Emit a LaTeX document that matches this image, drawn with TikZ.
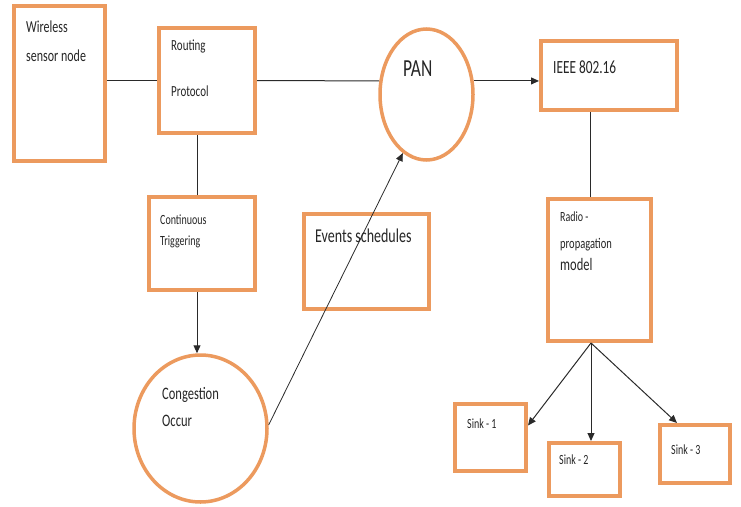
\documentclass[tikz,border=0pt]{standalone}
\usepackage{fontspec}
\setmainfont{Carlito}
\usetikzlibrary{arrows.meta,shapes.geometric}
\definecolor{boxorange}{HTML}{EC9A5E}
\definecolor{linegray}{HTML}{2A2A2A}
\newcommand{\mytall}[1]{\scalebox{1}[1.4]{#1}}
\tikzset{
  box/.style={draw=boxorange, line width=4pt, fill=white, inner sep=0pt},
  oval/.style={draw=boxorange, line width=3.5pt, fill=white, ellipse, inner sep=0pt},
  conn/.style={draw=linegray, line width=1pt},
  arr/.style={conn, -{Triangle[length=8pt,width=7pt]}},
  lbl/.style={anchor=west, inner sep=0pt, text=black!85},
  fA/.style={font=\fontsize{12}{14}\selectfont},
  fB/.style={font=\fontsize{11}{13}\selectfont},
  fBB/.style={font=\fontsize{12.5}{14}\selectfont},
  fC/.style={font=\fontsize{10}{12}\selectfont},
  fCC/.style={font=\fontsize{10.5}{12}\selectfont},
  fD/.style={font=\fontsize{14}{16}\selectfont},
  fDD/.style={font=\fontsize{13.3}{16}\selectfont},
  fE/.style={font=\fontsize{17.5}{19}\selectfont},
}
\begin{document}
\begin{tikzpicture}[x=1pt,y=-1pt]
\useasboundingbox (0,0) rectangle (741,506);
% shapes
\node[box, minimum width=91, minimum height=155] (wsn) at (59.5,83.5) {};
\node[box, minimum width=96, minimum height=105] (rp) at (207,80.5) {};
\node[oval, minimum width=93, minimum height=131] (pan) at (426.5,94.5) {};
\node[box, minimum width=136, minimum height=69] (ieee) at (609,75.5) {};
\node[box, minimum width=106, minimum height=93] (ct) at (202,243.5) {};
\node[box, minimum width=125, minimum height=95] (ev) at (366.5,261.5) {};
\node[oval, minimum width=133, minimum height=147] (cong) at (200.5,428.5) {};
\node[box, minimum width=103, minimum height=142] (rad) at (599.5,270) {};
\node[box, minimum width=71, minimum height=67] (s1) at (490.5,437.5) {};
\node[box, minimum width=71, minimum height=53] (s2) at (584.5,469.5) {};
\node[box, minimum width=70, minimum height=58] (s3) at (695,454) {};
% texts
\node[lbl,fA] (t1) at (26,27) {\mytall{Wireless}};
\node[lbl,fA] (t2) at (26,56) {\mytall{sensor node}};
\node[lbl,fB] (t3) at (171,46) {\mytall{Routing}};
\node[lbl,fB] (t4) at (171,91) {\mytall{Protocol}};
\node[lbl,fE] (t5) at (403,69) {\mytall{PAN}};
\node[lbl,fDD] (t6) at (553,67) {\mytall{IEEE 802.16}};
\node[lbl,fC] (t7) at (160,220) {\mytall{Continuous}};
\node[lbl,fC] (t8) at (160,242) {\mytall{Triggering}};
\node[lbl,fD] (t9) at (315,236) {\mytall{Events schedules}};
\node[lbl,fBB] (t10) at (162,395) {\mytall{Congestion}};
\node[lbl,fBB] (t11) at (162,421) {\mytall{Occur}};
\node[lbl,fC] (t12) at (560,217) {\mytall{Radio -}};
\node[lbl,fCC] (t13) at (560,245) {\mytall{propagation}};
\node[lbl,fBB] (t14) at (560,264) {\mytall{model}};
\node[lbl,fC] (t15) at (467,424) {\mytall{Sink - 1}};
\node[lbl,fC] (t16) at (559,460) {\mytall{Sink - 2}};
\node[lbl,fC] (t17) at (671,450) {\mytall{Sink - 3}};
% connectors
\draw[conn] (wsn.east |- rp.west) -- (rp.west);
\draw[conn] (rp.east) -- (pan.164);
\draw[arr] (pan.16) -- (pan.16 -| ieee.west);
\draw[conn] ([xshift=-5pt]ct.north) -- ([xshift=-5pt]ct.north |- rp.south);
\draw[arr] ([xshift=-5pt]ct.south) -- ([xshift=-5pt]ct.south |- cong.north);
\draw[arr, line width=0.8pt] (cong.3) -- (pan.248);
\draw[conn] ([xshift=-9.5pt]rad.north) -- ([xshift=-9.5pt]rad.north |- ieee.south);
\coordinate (apex) at ([xshift=-8.5pt]rad.south);
\draw[arr] (apex) -- ([yshift=12pt]s1.east);
\draw[arr] (apex) -- (apex |- s2.north);
\draw[arr] (apex) -- ([xshift=-18pt]s3.north);
\end{tikzpicture}
\end{document}
